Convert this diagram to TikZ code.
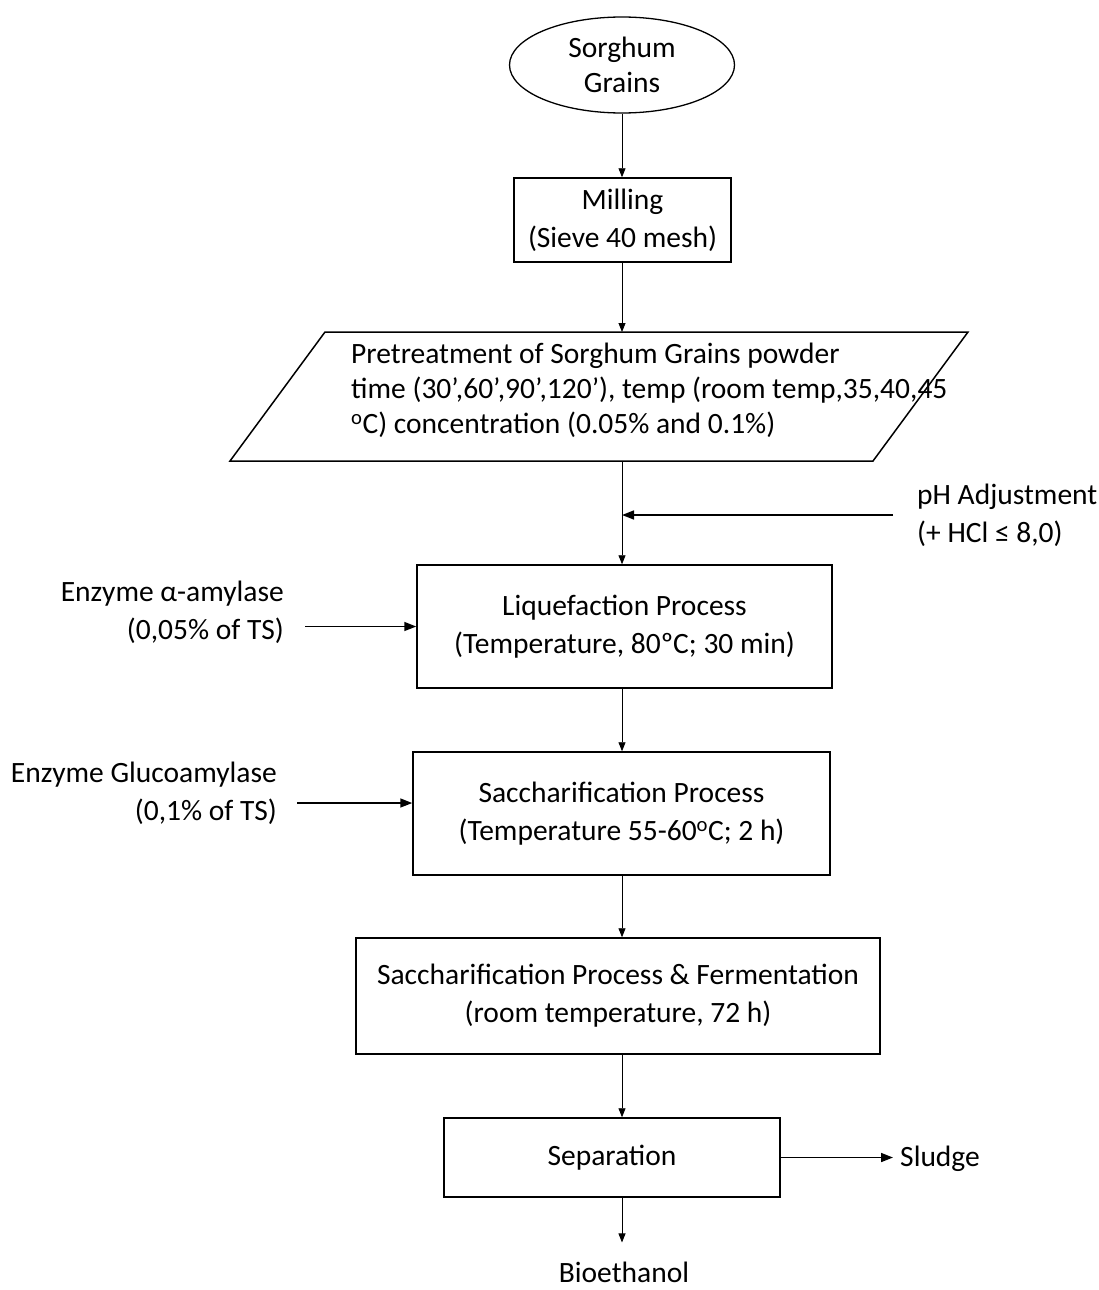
\documentclass[tikz,border=0pt]{standalone}
\usepackage{fontspec}
\setmainfont{Carlito}
\usetikzlibrary{shapes.geometric,arrows.meta}
\begin{document}
\begin{tikzpicture}[x=1pt,y=-1pt,
  every node/.style={font=\fontsize{29.5}{38}\selectfont},
  procbox/.style={draw,line width=1.5pt,rectangle,align=center,inner sep=0pt},
  lbl/.style={inner sep=0pt},
  flow/.style={line width=0.8pt,-{Triangle[length=9pt,width=7pt]}},
  inarr/.style={line width=1.6pt,-{Triangle[length=12pt,width=9pt]}}]
\useasboundingbox (0,0) rectangle (1099,1290);
\coordinate (axis) at (622,0);
% nodes
\node[draw,ellipse,line width=1.3pt,minimum width=225pt,minimum height=96pt,align=center,inner sep=0pt,font=\fontsize{29.5}{35}\selectfont] (src) at (622,65) {Sorghum\\Grains};
\node[procbox,minimum width=217pt,minimum height=84pt] (mil) at (622.5,220) {Milling\\(Sieve 40 mesh)};
\coordinate (preNW) at (325,332);
\coordinate (preNE) at (968,332);
\coordinate (preSE) at (873,461);
\coordinate (preSW) at (230,461);
\draw[line width=1.5pt,line join=miter] (preNW) -- (preNE) -- (preSE) -- (preSW) -- cycle;
\node[lbl,anchor=west,align=left,font=\fontsize{29.5}{35}\selectfont] (pretxt) at (351,390) {Pretreatment of Sorghum Grains powder\\time (30’,60’,90’,120’), temp (room temp,35,40,45\\\textsuperscript{o}C) concentration (0.05\% and 0.1\%)};
\node[lbl,anchor=west,align=left] (ph) at (917,515) {pH Adjustment\\(+ HCl ≤ 8,0)};
\node[procbox,minimum width=415pt,minimum height=123pt] (liq) at (624.5,626.5) {Liquefaction Process\\(Temperature, 80ºC; 30 min)};
\node[lbl,anchor=east,align=right] (ea) at (284,612.5) {Enzyme α-amylase\\(0,05\% of TS)};
\node[procbox,minimum width=417pt,minimum height=123pt] (sac) at (621.5,813.5) {Saccharification Process\\(Temperature 55-60\textsuperscript{o}C; 2 h)};
\node[lbl,anchor=east,align=right] (ga) at (277,793.5) {Enzyme Glucoamylase\\(0,1\% of TS)};
\node[procbox,minimum width=524pt,minimum height=116pt] (ssf) at (618,996) {Saccharification Process \& Fermentation\\(room temperature, 72 h)};
\node[procbox,minimum width=336pt,minimum height=79pt] (sep) at (612,1157.5) {Separation};
\node[lbl,anchor=west] (sl) at (900,1159) {Sludge};
\node[lbl] (bio) at (624,1272) {Bioethanol};
\coordinate (phin) at (622,515);
\coordinate (gain) at ([yshift=10.5pt]sac.west);
% connectors
\draw[flow] (src.south -| axis) -- (mil.north -| axis);
\draw[flow] (mil.south -| axis) -- (preNW -| axis);
\draw[flow] (preSW -| axis) -- (liq.north -| axis);
\draw[inarr,shorten <=24pt] (ph.west) -- (phin);
\draw[inarr,shorten <=21pt] (ea.east |- liq.west) -- (liq.west);
\draw[flow] (liq.south -| axis) -- (sac.north -| axis);
\draw[inarr,shorten <=20pt] (gain -| ga.east) -- (gain);
\draw[flow] (sac.south -| axis) -- (ssf.north -| axis);
\draw[flow] (ssf.south -| axis) -- (sep.north -| axis);
\draw[inarr,shorten >=7pt] (sep.east) -- (sep.east -| sl.west);
\draw[flow,shorten >=19pt] (sep.south -| axis) -- (bio.north -| axis);
\end{tikzpicture}
\end{document}
